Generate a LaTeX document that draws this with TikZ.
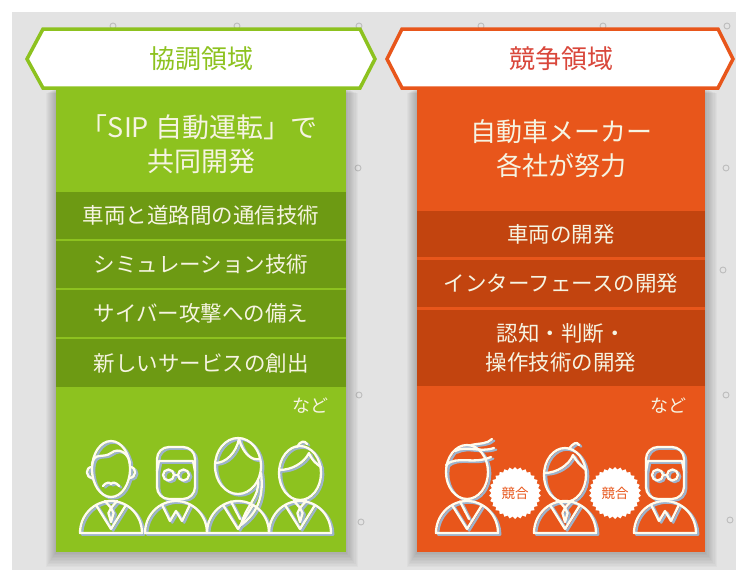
\documentclass[tikz,border=0pt]{standalone}
\usepackage{fontspec}
\setmainfont{Noto Sans CJK JP}
\usetikzlibrary{shapes.geometric}

\definecolor{leaf}{HTML}{8DC21F}
\definecolor{leafdark}{HTML}{6D9A13}
\definecolor{rust}{HTML}{E8561B}
\definecolor{rustdark}{HTML}{C2440F}
\definecolor{headred}{HTML}{D9473B}
\definecolor{cream}{HTML}{F6F4E2}
\definecolor{concrete}{HTML}{E3E3E3}
\definecolor{tiehole}{HTML}{BDBDBD}
\definecolor{lineshade}{HTML}{9DB3CC}
\definecolor{figwhite}{HTML}{FFFCEE}

\tikzset{
  hdrtext/.style={font=\fontsize{26}{30}\selectfont, inner sep=0pt},
  titletext/.style={text=cream, inner sep=0pt},
  bandtext/.style={font=\fontsize{21.5}{29}\selectfont, text=cream, inner sep=0pt, align=center},
  etctext/.style={font=\fontsize{18}{20}\selectfont, text=cream, inner sep=0pt},
  badge/.style={star, star points=30, star point ratio=1.1, fill=white, minimum size=52pt,
    inner sep=0pt, text=rust, font=\fontsize{13.5}{14}\selectfont},
  figline/.style={line width=2.3pt, line cap=round, line join=round},
  % torsos: origin at the middle of the base line
  suit/.pic={
    \draw (-31,0) arc[start angle=180, end angle=360, x radius=31, y radius=32] -- cycle;
    \draw (-15,-28) -- (0,-4) -- (15,-28);
    \draw (-6,-32) -- (0,-25) -- (6,-32);
    \draw (0,-25) -- (-2.6,-20) -- (0,-11) -- (2.6,-20) -- cycle;
  },
  sweater/.pic={
    \draw (-31,0) arc[start angle=180, end angle=360, x radius=31, y radius=32] -- cycle;
    \draw (-14,-28.3) -- (-6,-12) -- (0,-22) -- (6,-12) -- (14,-28.3);
  },
  jacket/.pic={
    \draw (-31,0) arc[start angle=180, end angle=360, x radius=31, y radius=32] -- cycle;
    \draw (-15,-28) -- (0,-4) -- (15,-28);
    \draw (-7,-31.5) -- (2,-14);
  },
  % heads
  mustache/.pic={
    \draw (0,-64) ellipse[x radius=19, y radius=28];
    \draw (-19,-68) .. controls (-17,-82) and (-8,-74) .. (0,-80) .. controls (8,-86) and (17,-80) .. (19,-70);
    \draw (-19,-66) .. controls (-26,-66) and (-26,-55) .. (-18,-55);
    \draw (19,-66) .. controls (26,-66) and (26,-55) .. (18,-55);
    \draw (-8,-47) .. controls (-5,-51) and (-1,-51) .. (0,-49) .. controls (1,-51) and (5,-51) .. (8,-47);
  },
  glasses/.pic={
    \draw[rounded corners=12] (-19,-86) rectangle (19,-34);
    \draw (-19,-62) -- (-17,-72) -- (17,-72) -- (19,-62);
    \draw (-7.5,-58) circle[radius=5.5];
    \draw (7.5,-58) circle[radius=5.5];
    \draw (-2,-58) -- (2,-58);
  },
  ponytail/.pic={
    \draw (0,-67) ellipse[x radius=23, y radius=28];
    \draw (-23,-70) .. controls (-12,-70) and (-2,-80) .. (1,-94);
    \draw (1,-94) .. controls (5,-80) and (13,-72) .. (22,-74);
    \draw (20,-53) .. controls (22,-36) and (8,-28) .. (3,-8) .. controls (14,-16) and (27,-30) .. (23,-60);
  },
  fringe/.pic={
    \draw (0,-60) ellipse[x radius=21, y radius=27];
    \draw (-21,-63) .. controls (-8,-63) and (4,-70) .. (9,-80) .. controls (12,-72) and (18,-68) .. (21,-66);
    \draw (-3,-86) .. controls (0,-92) and (5,-93) .. (7,-89);
  },
  windswept/.pic={
    \draw (0,-61) ellipse[x radius=21, y radius=27];
    \draw (-21,-68) .. controls (-10,-78) and (6,-68) .. (24,-76);
    \draw (-12,-82) .. controls (0,-88) and (12,-80) .. (27,-85);
    \draw (4,-88) .. controls (14,-90) and (20,-89) .. (25,-94);
  },
  tuft/.pic={
    \draw (0,-58) ellipse[x radius=21, y radius=27];
    \draw (-21,-60) .. controls (-8,-60) and (4,-68) .. (8,-78) .. controls (12,-70) and (18,-66) .. (21,-63);
    \draw (4,-84) .. controls (8,-90) and (12,-92) .. (14,-88);
  },
}

% one figure: a bluish offset copy under the white line art
\newcommand\personfig[3]{%
  \pic[figline, color=lineshade, shift={(2.2,1.6)}] at (#1) {#2};
  \pic[figline, color=lineshade, shift={(2.2,1.6)}] at (#1) {#3};
  \pic[figline, color=figwhite] at (#1) {#2};
  \pic[figline, color=figwhite] at (#1) {#3};
}

\begin{document}
\begin{tikzpicture}[x=1pt, y=-1pt]
\useasboundingbox (0,0) rectangle (736,570);
\fill[white] (0,0) rectangle (736,570);

% concrete wall with its tie holes
\fill[concrete] (12,12) rectangle (736,570);
\foreach \hx/\hy in {113/26, 237/26, 359/26, 481/26, 603/26, 727/26,
                     358/168, 726/168, 723/270, 359/395, 726/395, 361/522, 730/520}
  \draw[tiehole, line width=0.9pt] (\hx,\hy) circle[radius=3];

% soft shadows round both panels
\foreach \d in {1,...,10} {
  \fill[black, opacity=0.025] (56-\d, 88+0.5*\d) rectangle (346+1.2*\d, 552+1.5*\d);
  \fill[black, opacity=0.025] (417-\d, 88+0.5*\d) rectangle (705+1.2*\d, 552+1.5*\d);
}

% ---------- cooperative area ----------
\fill[leaf] (56,88) rectangle (346,552);
\fill[leafdark] (56,192) rectangle (346,239);
\fill[leafdark] (56,241) rectangle (346,288);
\fill[leafdark] (56,290) rectangle (346,337);
\fill[leafdark] (56,339) rectangle (346,387);
\draw[leaf, line width=3.5pt, fill=white, line join=miter]
  (27,59) -- (43,29) -- (360,29) -- (375,59) -- (360,88) -- (43,88) -- cycle;
\node[hdrtext, text=leaf] (coophdr) at (201,59) {協調領域};
\node[titletext, font=\fontsize{27}{32}\selectfont] (coopt1) at (199,127) {「SIP 自動運転」で};
\node[titletext, font=\fontsize{27}{32}\selectfont] (coopt2) at (201,161) {共同開発};
\node[bandtext] (coopa) at (201,215.5) {車両と道路間の通信技術};
\node[bandtext] (coopb) at (201,264.5) {シミュレーション技術};
\node[bandtext] (coopc) at (201,313.5) {サイバー攻撃への備え};
\node[bandtext] (coopd) at (201,363) {新しいサービスの創出};
\node[etctext] (coopetc) at (310,406) {など};
\personfig{111,533}{mustache}{suit}
\personfig{176,533}{glasses}{sweater}
\personfig{238,533}{ponytail}{jacket}
\personfig{300,533}{fringe}{suit}

% ---------- competitive area ----------
\fill[rust] (417,88) rectangle (705,552);
\fill[rustdark] (417,211) rectangle (705,257);
\fill[rustdark] (417,260) rectangle (705,307);
\fill[rustdark] (417,310) rectangle (705,386);
\draw[rust, line width=3.5pt, fill=white, line join=miter]
  (387,59) -- (402,29) -- (718,29) -- (733,59) -- (718,88) -- (402,88) -- cycle;
\node[hdrtext, text=headred] (comphdr) at (561,59) {競争領域};
\node[titletext, font=\fontsize{26}{30}\selectfont] (compt1) at (561,132) {自動車メーカー};
\node[titletext, font=\fontsize{26}{30}\selectfont] (compt2) at (561,166) {各社が努力};
\node[bandtext] (compa) at (561,234) {車両の開発};
\node[bandtext] (compb) at (561,283.5) {インターフェースの開発};
\node[bandtext] (compc) at (561,347.5) {認知・判断・\\操作技術の開発};
\node[etctext] (competc) at (668,406) {など};
\personfig{467,533}{windswept}{jacket}
\personfig{565,533}{tuft}{suit}
\personfig{665,533}{glasses}{sweater}
\node[badge] (rivalA) at (515,493) {競合};
\node[badge] (rivalB) at (615,493) {競合};
\end{tikzpicture}
\end{document}
